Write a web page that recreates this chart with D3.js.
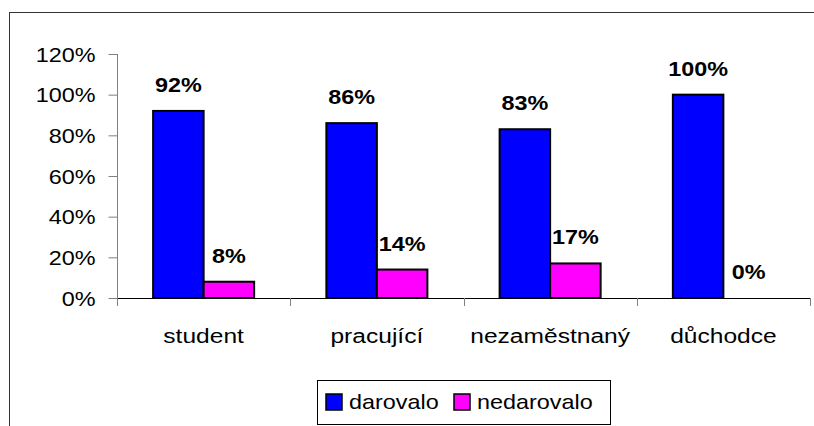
<!DOCTYPE html>
<html lang="cs">
<head>
  <meta charset="UTF-8" />
  <title>darovalo / nedarovalo</title>
  <style>
    html, body { margin: 0; padding: 0; background: #fff; }
    svg { display: block; font-family: "Liberation Sans", Arial, sans-serif; }
    .tick-label { font-size: 20px; fill: #000; }
    .value-label { font-size: 20px; font-weight: bold; fill: #000; }
    .cat-label { font-size: 21px; fill: #000; }
    .legend-text { font-size: 20px; fill: #000; }
  </style>
</head>
<body>
  <svg width="814" height="426"></svg>
  <script src="https://d3js.org/d3.v7.min.js"></script>
  <script>
    const categories = ["student", "pracující", "nezaměstnaný", "důchodce"];
    const seriesNames = ["darovalo", "nedarovalo"];
    const darovalo = [92, 86, 83, 100];
    const nedarovalo = [8, 14, 17, 0];
    const yTicks = [0, 20, 40, 60, 80, 100, 120];
    const colors = ["#0000ff", "#ff00ff"];

    const svg = d3.select("svg");
    const stretch = 1.17; // text in the original is drawn a bit wide

    // outer frame (runs off the right and bottom edge)
    svg.append("rect")
      .attr("x", 9.5).attr("y", 12.5)
      .attr("width", 900).attr("height", 500)
      .attr("fill", "none").attr("stroke", "#333").attr("stroke-width", 1);

    const x0 = d3.scaleBand().domain(categories).range([117, 810]).paddingInner(0).paddingOuter(0);
    const x1 = d3.scaleBand().domain(seriesNames).range([0, x0.bandwidth()]).paddingInner(0).paddingOuter(0.715);
    const y = d3.scaleLinear().domain([0, 120]).range([298, 54]);

    const rows = categories.map((c, i) => ({ cat: c, vals: [darovalo[i], nedarovalo[i]] }));

    // y axis
    const yAxis = svg.append("g").attr("transform", "translate(117.5,0)")
      .call(d3.axisLeft(y).tickValues(yTicks).tickSize(9).tickFormat(""));
    yAxis.select(".domain").attr("stroke", "#808080").attr("d", `M0,${y(120)}V${y(0)}`);
    yAxis.selectAll(".tick line").attr("stroke", "#808080");
    yAxis.selectAll(".tick").each(function(d) {
      d3.select(this).append("text")
        .attr("class", "tick-label")
        .attr("text-anchor", "end")
        .attr("transform", `translate(-22,7) scale(${stretch},1)`)
        .attr("fill", "#000")
        .text(d + "%");
    });

    // x axis with ticks at band boundaries
    const xg = svg.append("g");
    xg.append("line")
      .attr("x1", 117).attr("x2", 810)
      .attr("y1", 298.5).attr("y2", 298.5)
      .attr("stroke", "#000");
    const bounds = categories.map(c => x0(c)).concat([x0(categories[categories.length - 1]) + x0.bandwidth()]);
    xg.selectAll("line.bt").data(bounds).join("line")
      .attr("class", "bt")
      .attr("x1", d => Math.round(d) + 0.5).attr("x2", d => Math.round(d) + 0.5)
      .attr("y1", 298).attr("y2", 306)
      .attr("stroke", "#808080");
    xg.selectAll("text").data(categories).join("text")
      .attr("class", "cat-label")
      .attr("text-anchor", "middle")
      .attr("transform", d => `translate(${x0(d) + x0.bandwidth() / 2},343) scale(${stretch},1)`)
      .text(d => d);

    // bars
    const groups = svg.append("g").selectAll("g").data(rows).join("g")
      .attr("transform", d => `translate(${x0(d.cat)},0)`);

    groups.selectAll("rect")
      .data(d => d.vals.map((v, i) => ({ key: seriesNames[i], v, i })))
      .join("rect")
      .filter(d => d.v > 0)
      .attr("x", d => x1(d.key))
      .attr("y", d => y(d.v))
      .attr("width", x1.bandwidth())
      .attr("height", d => y(0) - y(d.v))
      .attr("fill", d => colors[d.i])
      .attr("stroke", "#000")
      .attr("stroke-width", 2);

    groups.selectAll("text")
      .data(d => d.vals.map((v, i) => ({ key: seriesNames[i], v, i })))
      .join("text")
      .attr("class", "value-label")
      .attr("text-anchor", "middle")
      .attr("transform", d => `translate(${x1(d.key) + x1.bandwidth() / 2},${y(d.v) - 19}) scale(${stretch},1)`)
      .text(d => d.v + "%");

    // legend
    const legend = svg.append("g");
    legend.append("rect")
      .attr("x", 317.5).attr("y", 380.5)
      .attr("width", 293).attr("height", 44)
      .attr("fill", "#fff").attr("stroke", "#000");
    const legendX = [326, 454];
    seriesNames.forEach((s, i) => {
      legend.append("rect")
        .attr("x", legendX[i]).attr("y", 394)
        .attr("width", 16).attr("height", 16)
        .attr("fill", colors[i]).attr("stroke", "#000").attr("stroke-width", 1.5);
      legend.append("text")
        .attr("class", "legend-text")
        .attr("transform", `translate(${legendX[i] + 23},409) scale(${stretch},1)`)
        .text(s);
    });
  </script>
</body>
</html>
